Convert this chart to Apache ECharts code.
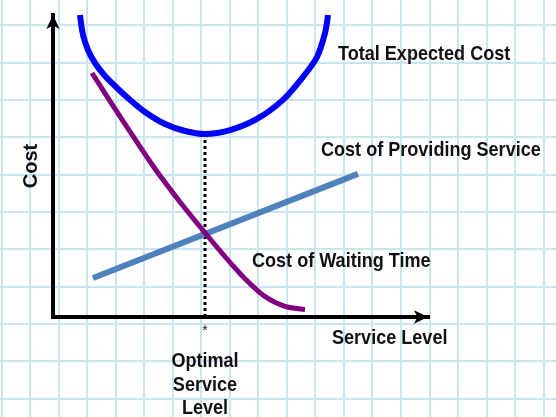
<!DOCTYPE html>
<html><head><meta charset="utf-8">
<script src="https://cdn.jsdelivr.net/npm/echarts@6/dist/echarts.min.js"></script>
<style>html,body{margin:0;padding:0;background:#fff}#c{width:556px;height:417px}</style>
</head><body><div id="c"></div>
<script>
// Service level (x) and cost (y), arbitrary 0-100 units
const totalCostX = [7.2, 8.0, 9.33, 11.2, 13.87, 16.53, 20.0, 24.53, 29.87, 35.2, 40.53, 47.2, 54.4, 61.33, 66.67, 70.4, 72.53, 73.33];
const totalCostY = [100, 93.4, 88.4, 84.1, 79.8, 76.5, 72.5, 67.9, 63.9, 61.6, 60.6, 61.9, 65.6, 71.9, 79.5, 86.1, 94.0, 100];
const waitingX = [10.4, 15.2, 20.53, 27.2, 33.87, 40.53, 45.87, 51.2, 56.53, 61.87, 67.2];
const waitingY = [80.8, 71.5, 61.4, 49.1, 38.1, 27.9, 20.0, 12.7, 6.8, 3.5, 2.5];
const providingX = [10.67, 81.33];
const providingY = [12.9, 47.4];
const optimalLevel = 40.53;
const optimalCost = [0, 60.6];
const axisTitles = ['Service Level', 'Cost'];
const curveLabels = ['Total Expected Cost', 'Cost of Providing Service', 'Cost of Waiting Time'];
const optimalLabel = ['Optimal', 'Service', 'Level'];

const zip = (xs, ys) => xs.map((x, i) => [x, ys[i]]);
const FONT = 'bold 21px "Liberation Sans", Arial, sans-serif';
const txt = (text, x, y, align) => ({
  type: 'text', x: x, y: y, z: 100, scaleX: 0.86,
  style: { text: text, font: FONT, fill: '#111', align: align || 'left', verticalAlign: 'middle' }
});

const chart = echarts.init(document.getElementById('c'), null, { renderer: 'canvas' });
chart.setOption({
  animation: false,
  backgroundColor: '#fff',
  grid: [
    { left: 53, top: 15, width: 375, height: 302, outerBoundsMode: 'none', containLabel: false },
    { left: -27.04, top: -12.33, width: 598.9, height: 448, outerBoundsMode: 'none', containLabel: false }
  ],
  xAxis: [
    { gridIndex: 0, type: 'value', min: 0, max: 100,
      axisLine: { show: true, lineStyle: { color: '#000', width: 4, cap: 'square' }, symbol: ['none', 'arrow'], symbolSize: [10, 14] },
      axisTick: { show: false }, axisLabel: { show: false }, splitLine: { show: false } },
    { gridIndex: 1, type: 'value', min: 0, max: 21, interval: 1,
      axisLine: { show: false }, axisTick: { show: false }, axisLabel: { show: false },
      splitLine: { show: true, lineStyle: { color: '#c9e5f1', width: 2 } } }
  ],
  yAxis: [
    { gridIndex: 0, type: 'value', min: 0, max: 100,
      name: axisTitles[1], nameLocation: 'middle', nameGap: 12, nameRotate: 90,
      nameTextStyle: { fontFamily: 'Liberation Sans', fontWeight: 'bold', fontSize: 20, color: '#111' },
      axisLine: { show: true, lineStyle: { color: '#000', width: 4, cap: 'square' }, symbol: ['none', 'arrow'], symbolSize: [10, 14] },
      axisTick: { show: false }, axisLabel: { show: false }, splitLine: { show: false } },
    { gridIndex: 1, type: 'value', min: 0, max: 12, interval: 1,
      axisLine: { show: false }, axisTick: { show: false }, axisLabel: { show: false },
      splitLine: { show: true, lineStyle: { color: '#c9e5f1', width: 2 } } }
  ],
  series: [
    { type: 'line', xAxisIndex: 0, yAxisIndex: 0, data: zip([optimalLevel, optimalLevel], optimalCost),
      symbol: 'none', z: 2, lineStyle: { color: '#000', width: 3, type: [3, 3] } },
    { type: 'line', xAxisIndex: 0, yAxisIndex: 0, data: zip(providingX, providingY),
      symbol: 'none', z: 3, lineStyle: { color: '#4f81bd', width: 6 } },
    { type: 'line', xAxisIndex: 0, yAxisIndex: 0, data: zip(waitingX, waitingY),
      symbol: 'none', smooth: 0.3, z: 4, lineStyle: { color: '#800080', width: 5 } },
    { type: 'line', xAxisIndex: 0, yAxisIndex: 0, data: zip(totalCostX, totalCostY),
      symbol: 'none', smooth: 0.3, z: 5, lineStyle: { color: '#0000ff', width: 6 } }
  ],
  graphic: [
    txt(curveLabels[0], 338, 54),
    txt(curveLabels[1], 321, 150),
    txt(curveLabels[2], 252, 261),
    txt(axisTitles[0], 332, 338),
    { type: 'text', x: 205, y: 331, z: 100, style: { text: '*', font: '14px "Liberation Sans", sans-serif', fill: '#222', align: 'center', verticalAlign: 'middle' } },
    txt(optimalLabel[0], 205, 361, 'center'),
    txt(optimalLabel[1], 205, 385, 'center'),
    txt(optimalLabel[2], 205, 408, 'center')
  ]
});
</script>
</body></html>
